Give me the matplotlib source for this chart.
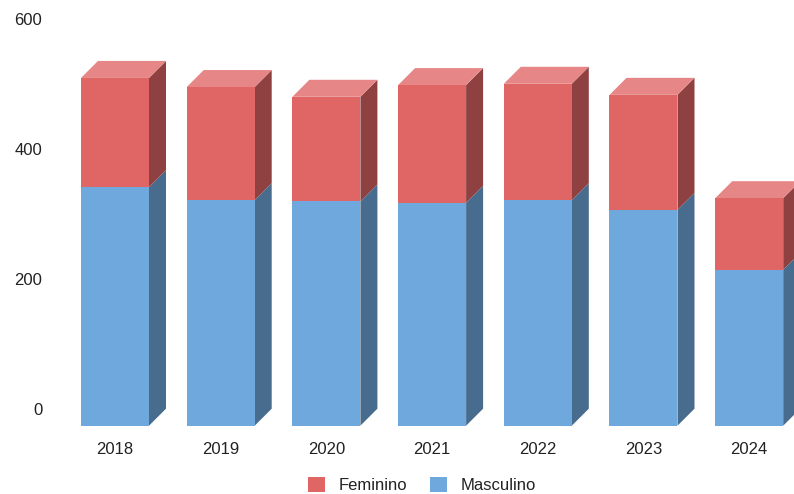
import matplotlib
matplotlib.use('Agg')
import matplotlib.pyplot as plt
from matplotlib.patches import Polygon, Patch
import numpy as np

years = ['2018', '2019', '2020', '2021', '2022', '2023', '2024']
masculino = [367, 347, 345, 343, 347, 332, 240]
feminino = [168, 174, 161, 181, 179, 177, 110]
y_ticks = [0, 200, 400, 600]

plt.rcParams['font.family'] = ['Liberation Sans', 'DejaVu Sans']

# colours: front, side, top
blue = ('#6fa8dc', '#486c8e', '#8cbbe5')
red = ('#e06666', '#8f4141', '#e68686')

W, H = 794, 494
fig = plt.figure(figsize=(W / 100, H / 100), dpi=100)

# axes laid out in pixels: 0 on the front plane sits 68 px above the bottom
px_per_unit = 0.65
slot = 105.7
left_px = 115 - slot / 2
bottom_px = 68.3
ymax = 640
ax = fig.add_axes([left_px / W, bottom_px / H, 7 * slot / W, ymax * px_per_unit / H])
ax.set_xlim(-0.5, 6.5)
ax.set_ylim(0, ymax)

width = 68 / slot
dx = 17 / slot              # depth offset in x data units
dy = 17 / px_per_unit       # depth offset in y data units


def box(ax, x, y0, y1, cols, top=True):
    xl, xr = x - width / 2, x + width / 2
    ax.bar(x, y1 - y0, bottom=y0, width=width, color=cols[0], linewidth=0, zorder=3)
    side = [(xr, y0), (xr + dx, y0 + dy), (xr + dx, y1 + dy), (xr, y1)]
    ax.add_patch(Polygon(side, closed=True, facecolor=cols[1], linewidth=0, zorder=2, clip_on=False))
    if top:
        lid = [(xl, y1), (xl + dx, y1 + dy), (xr + dx, y1 + dy), (xr, y1)]
        ax.add_patch(Polygon(lid, closed=True, facecolor=cols[2], linewidth=0, zorder=2, clip_on=False))


x = np.arange(len(years))
for i in x:
    m, f = masculino[i], feminino[i]
    box(ax, i, 0, m, blue, top=False)
    box(ax, i, m, m + f, red)

# value labels sit on the back wall of the box
ax.set_yticks([v + dy for v in y_ticks])
ax.set_yticklabels([str(v) for v in y_ticks])
ax.set_xticks(x)
ax.set_xticklabels(years)
ax.tick_params(axis='y', length=0, pad=14.4, labelsize=12, colors='#222222')
ax.tick_params(axis='x', length=0, pad=12, labelsize=12, colors='#222222')
for s in ax.spines.values():
    s.set_visible(False)

handles = [Patch(facecolor=red[0], label='Feminino'), Patch(facecolor=blue[0], label='Masculino')]
fig.legend(handles=handles, loc='center', bbox_to_anchor=(422 / W, 9 / H), ncol=2, frameon=False,
           fontsize=12, handlelength=1.0, handleheight=1.0, handletextpad=0.8, columnspacing=1.4,
           labelcolor='#222222')

fig.savefig('out.png', dpi=100)
